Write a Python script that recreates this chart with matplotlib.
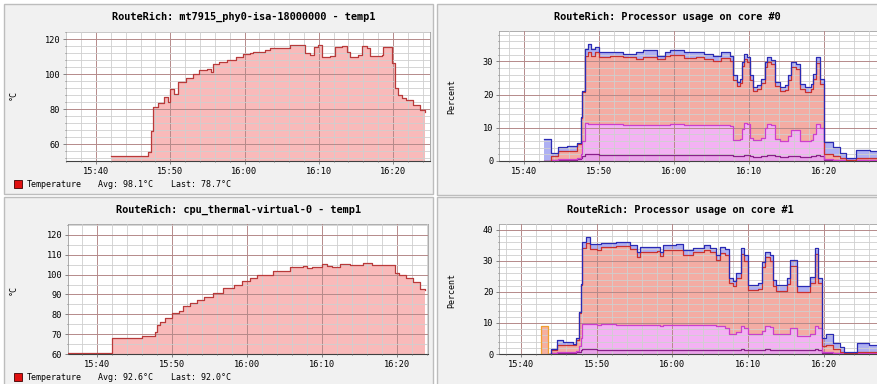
import matplotlib
matplotlib.use("Agg")
import matplotlib.pyplot as plt
import numpy as np
from matplotlib.patches import Rectangle
from matplotlib.ticker import MultipleLocator, FuncFormatter

W, H = 877, 384

# time axis: minutes after 15:00
# --- mt7915_phy0-isa-18000000 temp1 (degC)
wifi_t = [42.0, 47.0, 47.4, 47.7, 48.4, 49.1, 49.7, 50.0, 50.5, 51.1, 52.1, 53.0,
          53.9, 55.0, 55.5, 55.7, 56.6, 57.7, 58.9, 59.8, 60.7, 61.2, 62.8, 63.4,
          66.1, 67.7, 68.1, 68.8, 69.3, 69.9, 70.4, 71.5, 72.2, 73.1, 73.8, 74.2,
          75.3, 75.8, 76.5, 76.9, 78.5, 78.7, 79.6, 79.8, 80.3, 80.7, 81.2, 81.8,
          82.7, 83.6, 84.3]
wifi_temp = [53.3, 55.2, 67.2, 81.5, 83.4, 87.2, 84.3, 91.4, 88.5, 95.8, 98.1, 100.0,
             102.5, 103.2, 101.5, 105.7, 106.8, 108.2, 109.7, 111.4, 112.0, 112.9, 113.9, 114.8,
             116.7, 116.5, 112.0, 111.0, 115.8, 116.7, 110.1, 110.6, 115.8, 116.3, 112.9, 110.1,
             111.0, 116.3, 114.8, 110.6, 111.0, 115.4, 115.8, 106.2, 92.0, 88.2, 86.5, 85.3,
             82.5, 79.6, 78.3]

# --- cpu_thermal-virtual-0 temp1 (degC)
cpu_t = [36.1, 42.0, 44.4, 46.0, 47.5, 47.7, 48.0, 48.4, 49.1, 49.7, 50.0, 50.9,
         51.5, 52.4, 53.3, 54.2, 55.5, 56.8, 58.2, 59.3, 60.4, 61.3, 63.5, 65.7,
         67.5, 68.0, 68.7, 70.0, 70.6, 71.3, 72.4, 73.7, 75.5, 76.6, 78.2, 79.5,
         79.7, 80.3, 81.2, 82.1, 83.0, 83.7]
cpu_temp = [60.5, 67.9, 68.2, 68.9, 69.2, 70.9, 74.7, 76.3, 77.9, 78.3, 80.5, 81.7,
            84.2, 85.9, 87.0, 88.7, 90.9, 93.4, 95.0, 96.7, 98.4, 100.0, 102.0, 103.7,
            104.2, 103.3, 103.7, 105.3, 104.2, 103.9, 105.3, 104.7, 105.7, 104.7, 105.0, 105.0,
            100.9, 100.0, 98.4, 96.4, 93.0, 92.0]

# --- core #0 usage, stacked line levels (percent)
core0_t = [42.7, 43.6, 44.6, 45.7, 47.1, 47.6, 47.8, 48.1, 48.6, 49.0, 49.5, 50.0,
           51.5, 53.2, 55.0, 55.9, 57.7, 58.8, 59.5, 61.3, 63.0, 64.0, 65.2, 66.3,
           67.5, 67.9, 68.4, 68.8, 69.1, 69.3, 69.8, 70.1, 70.6, 71.1, 71.6, 72.1,
           72.4, 72.9, 73.5, 74.1, 74.8, 75.2, 75.6, 76.3, 76.8, 77.5, 78.3, 78.6,
           79.0, 79.5, 80.0, 81.2, 82.1, 83.0, 84.3, 86.1, 87.2]
core0_sys = [0.0, 0.2, 0.3, 0.3, 0.5, 0.8, 1.5, 2.1, 2.1, 2.0, 2.0, 1.9,
             1.9, 1.9, 1.9, 1.9, 1.8, 1.8, 1.9, 1.9, 1.8, 1.8, 1.8, 1.9,
             1.7, 1.4, 1.4, 1.4, 1.6, 1.8, 1.7, 1.4, 1.3, 1.3, 1.4, 1.6,
             1.8, 1.8, 1.4, 1.3, 1.3, 1.4, 1.6, 1.6, 1.3, 1.3, 1.4, 1.5,
             1.8, 1.6, 0.3, 0.2, 0.2, 0.1, 0.2, 0.2, 0.1]
core0_user = [0.0, 0.3, 0.5, 0.5, 1.0, 2.0, 6.0, 11.3, 11.2, 11.1, 11.0, 11.0,
              11.0, 10.8, 10.8, 10.7, 10.8, 10.8, 11.0, 10.9, 10.8, 10.8, 10.7, 10.7,
              10.5, 6.4, 6.4, 6.5, 9.5, 11.3, 11.0, 7.0, 6.4, 6.4, 7.0, 10.0,
              11.0, 10.8, 6.5, 6.1, 6.1, 7.5, 9.3, 9.3, 6.1, 6.1, 6.3, 8.0,
              11.0, 10.0, 0.5, 0.3, 0.3, 0.2, 0.3, 0.3, 0.2]
core0_irq = [0.0, 1.4, 3.1, 3.1, 5.0, 12.8, 20.8, 31.7, 32.9, 31.7, 32.7, 31.2,
             31.5, 31.2, 30.7, 31.2, 30.7, 31.7, 31.8, 31.0, 31.3, 30.8, 30.2, 31.0,
             30.0, 24.5, 22.5, 23.5, 28.5, 30.8, 29.8, 24.3, 21.2, 21.6, 23.5, 28.3,
             29.8, 29.2, 22.5, 21.0, 21.5, 24.4, 28.2, 27.8, 21.8, 20.8, 21.8, 24.8,
             29.6, 23.3, 2.0, 1.5, 0.9, 0.4, 0.8, 0.8, 0.5]
core0_total = [6.6, 2.5, 4.1, 4.4, 5.4, 13.3, 21.2, 33.7, 35.2, 33.7, 34.2, 32.9,
               32.7, 32.2, 32.9, 33.5, 31.7, 32.9, 33.4, 32.7, 32.9, 32.2, 31.5, 32.7,
               31.7, 25.8, 23.8, 24.8, 29.7, 32.2, 31.2, 25.8, 22.3, 22.8, 24.8, 29.7,
               31.2, 30.5, 23.8, 22.3, 22.8, 25.8, 29.7, 29.2, 23.3, 22.3, 23.3, 26.3,
               31.2, 24.8, 5.8, 4.1, 2.4, 0.9, 3.4, 2.9, 1.5]

# --- core #1 usage, stacked line levels (percent)
core1_t = [43.6, 44.0, 44.7, 45.5, 46.9, 47.3, 47.7, 47.9, 48.1, 48.6, 49.1, 50.0,
           50.6, 52.6, 54.4, 55.3, 55.7, 57.9, 58.4, 58.8, 60.5, 61.4, 62.7, 64.1,
           65.0, 65.8, 66.3, 66.9, 67.5, 68.0, 68.4, 69.1, 69.5, 70.0, 71.3, 71.8,
           72.2, 72.9, 73.3, 73.7, 75.1, 75.5, 76.4, 78.1, 78.8, 79.2, 79.7, 80.3,
           81.2, 82.1, 82.7, 84.3, 86.0, 87.2]
core1_sys = [0.0, 0.2, 0.3, 0.3, 0.3, 0.5, 0.8, 1.2, 1.5, 1.5, 1.5, 1.4,
             1.4, 1.4, 1.4, 1.3, 1.4, 1.4, 1.3, 1.4, 1.4, 1.3, 1.3, 1.3,
             1.3, 1.3, 1.3, 1.3, 1.2, 1.2, 1.3, 1.5, 1.4, 1.2, 1.2, 1.3,
             1.5, 1.4, 1.2, 1.2, 1.2, 1.4, 1.2, 1.3, 1.5, 1.4, 0.3, 0.3,
             0.2, 0.2, 0.1, 0.2, 0.2, 0.1]
core1_user = [0.0, 0.3, 0.5, 0.5, 0.6, 1.0, 2.5, 5.0, 9.7, 9.7, 9.6, 9.5,
              9.6, 9.5, 9.4, 9.3, 9.3, 9.2, 9.1, 9.2, 9.3, 9.3, 9.3, 9.3,
              9.2, 9.0, 9.0, 8.4, 6.3, 6.3, 7.0, 9.0, 8.5, 6.3, 6.3, 7.5,
              9.0, 8.8, 6.3, 6.3, 6.3, 8.4, 5.8, 6.5, 9.0, 8.5, 0.5, 0.5,
              0.4, 0.3, 0.2, 0.3, 0.3, 0.2]
core1_irq = [0.0, 1.2, 2.8, 2.8, 2.8, 4.5, 13.2, 22.3, 34.3, 35.9, 34.0, 33.4,
             34.4, 34.8, 33.8, 31.4, 33.0, 33.2, 31.5, 33.5, 33.5, 32.0, 32.8, 33.5,
             32.8, 30.3, 32.5, 32.0, 23.0, 22.0, 24.5, 32.3, 30.0, 20.5, 21.0, 28.0,
             31.2, 30.0, 22.0, 20.3, 22.5, 28.5, 20.0, 23.0, 32.3, 23.0, 2.5, 3.0,
             1.5, 0.8, 0.3, 0.8, 0.8, 0.4]
core1_total = [0.0, 1.7, 4.4, 4.0, 3.2, 5.3, 13.6, 22.7, 36.2, 37.8, 35.5, 35.5,
               35.8, 36.0, 35.2, 33.0, 34.6, 34.6, 33.0, 35.1, 35.5, 33.5, 34.3, 35.1,
               34.3, 31.9, 34.4, 34.0, 24.5, 23.5, 26.1, 34.1, 31.9, 22.3, 22.8, 29.8,
               33.0, 31.9, 24.0, 22.3, 24.5, 30.3, 21.8, 24.9, 34.2, 24.5, 5.2, 6.3,
               3.6, 2.3, 0.7, 3.4, 2.9, 1.5]
# short iowait burst on core #1
core1_wait_t = [42.7, 43.6]
core1_wait = [9.0, 9.0]

tick_minutes = [40, 50, 60, 70, 80]

MONO = "DejaVu Sans Mono"
MAJOR = "#b58a8a"
MINOR = "#cfcfcf"


def px_axes(fig, x0, y0, x1, y1):
    return fig.add_axes([x0 / W, 1 - y1 / H, (x1 - x0) / W, (y1 - y0) / H], zorder=2)


def hhmm(x, pos=None):
    h = 15 + int(x) // 60
    m = int(x) % 60
    return f"{h}:{m:02d}"


def style_axes(ax, xlim, ylim, ymajor, yminor):
    ax.set_facecolor("white")
    ax.set_xlim(*xlim)
    ax.set_ylim(*ylim)
    ax.set_xticks(tick_minutes)
    ax.xaxis.set_major_formatter(FuncFormatter(hhmm))
    ax.xaxis.set_minor_locator(MultipleLocator(2))
    ax.yaxis.set_major_locator(MultipleLocator(ymajor))
    ax.yaxis.set_minor_locator(MultipleLocator(yminor))
    ax.set_axisbelow(False)
    ax.grid(True, which="minor", color=MINOR, lw=0.6, zorder=2)
    ax.grid(True, which="major", color=MAJOR, lw=0.7, zorder=2)
    ax.tick_params(which="both", length=2, width=0.6, color="#707070",
                   labelsize=6.2, pad=2)
    ax.tick_params(which="minor", length=1)
    for lab in ax.get_xticklabels() + ax.get_yticklabels():
        lab.set_family(MONO)
    for side in ["left", "right", "top"]:
        ax.spines[side].set_color("#a0a0a0")
        ax.spines[side].set_linewidth(0.6)
    ax.spines["bottom"].set_color("#404040")
    ax.spines["bottom"].set_linewidth(0.8)


def panel(fig, x0, y0, x1, y1):
    fig.patches.append(Rectangle((x0 / W, 1 - y1 / H), (x1 - x0) / W, (y1 - y0) / H,
                                 transform=fig.transFigure, facecolor="#f1f1f1",
                                 edgecolor="#bdbdbd", lw=1.0, zorder=-10))


def temp_panel(fig, box, title, t, v, xlim, ylim, ymajor, yminor, title_xy, ylab_xy,
               legend_y, avg, last):
    ax = px_axes(fig, *box)
    style_axes(ax, xlim, ylim, ymajor, yminor)
    ax.fill_between(t, v, ylim[0], step="post", color="#f9baba", lw=0, zorder=1)
    ax.step(t, v, where="post", color="#b83a3a", lw=0.9, zorder=3)
    fig.text(title_xy[0] / W, 1 - title_xy[1] / H, title, ha="center", va="center",
             family=MONO, weight="bold", fontsize=7.4)
    fig.text(ylab_xy[0] / W, 1 - ylab_xy[1] / H, "°C", rotation=90, ha="center",
             va="center", family=MONO, fontsize=6)
    fig.patches.append(Rectangle((14 / W, 1 - (legend_y + 4) / H), 8 / W, 8 / H,
                                 transform=fig.transFigure, facecolor="#e01010",
                                 edgecolor="#400000", lw=0.6, zorder=3))
    fig.text(27 / W, 1 - legend_y / H, "Temperature", va="center", family=MONO, fontsize=6)
    fig.text(98 / W, 1 - legend_y / H, f"Avg: {avg}°C", va="center", family=MONO, fontsize=6)
    fig.text(171 / W, 1 - legend_y / H, f"Last: {last}°C", va="center", family=MONO, fontsize=6)
    return ax


def cpu_panel(fig, box, title, t, sys_top, user_top, irq_top, total, xlim, ylim,
              title_xy, ylab_xy):
    ax = px_axes(fig, *box)
    style_axes(ax, xlim, ylim, 10, 2)
    zero = np.zeros(len(t))
    layers = [(zero, sys_top, "#e9a3e9"), (sys_top, user_top, "#f3b2f3"),
              (user_top, irq_top, "#f4aca3"), (irq_top, total, "#aeb0f2")]
    for lo, hi, c in layers:
        ax.fill_between(t, lo, hi, step="post", color=c, lw=0, zorder=1)
    for y, c in [(sys_top, "#8a1f8a"), (user_top, "#cc3fcc"), (irq_top, "#c83030"),
                 (total, "#2a2ab4")]:
        ax.step(t, y, where="post", color=c, lw=0.9, zorder=3)
    fig.text(title_xy[0] / W, 1 - title_xy[1] / H, title, ha="center", va="center",
             family=MONO, weight="bold", fontsize=7.4)
    fig.text(ylab_xy[0] / W, 1 - ylab_xy[1] / H, "Percent", rotation=90, ha="center",
             va="center", family=MONO, fontsize=6)
    return ax


fig = plt.figure(figsize=(W / 100, H / 100), dpi=100, facecolor="white")

panel(fig, 4, 4, 433, 194)
panel(fig, 437, 4, 880, 195)
panel(fig, 4, 197, 433, 386)
panel(fig, 437, 197, 880, 386)

temp_panel(fig, (66, 32, 430, 161), "RouteRich: mt7915_phy0-isa-18000000 - temp1",
           wifi_t, wifi_temp, (35.96, 84.98), (50.3, 124.2), 20, 4,
           (244, 17), (13, 95), 184, "98.1", "78.7")
temp_panel(fig, (68, 224, 428, 354), "RouteRich: cpu_thermal-virtual-0 - temp1",
           cpu_t, cpu_temp, (36.13, 84.13), (60, 125.5), 10, 5,
           (239, 210), (13, 290), 377, "92.6", "92.0")

cpu_panel(fig, (499, 31, 877, 161), "RouteRich: Processor usage on core #0",
          core0_t, core0_sys, core0_user, core0_irq, core0_total,
          (36.67, 87.07), (0, 39.1), (667, 17), (452, 97))
ax1 = cpu_panel(fig, (499, 224, 877, 354), "RouteRich: Processor usage on core #1",
                core1_t, core1_sys, core1_user, core1_irq, core1_total,
                (37.1, 87.0), (0, 41.9), (680, 210), (452, 290))
ax1.fill_between(core1_wait_t, core1_wait, 0, step="post", color="#f5b0a0", lw=0, zorder=1)
w0, w1 = core1_wait_t[0], core1_wait_t[-1]
ax1.plot([w0, w0, w1, w1], [0, core1_wait[0], core1_wait[-1], 0], color="#f0a030",
         lw=0.9, zorder=3)

fig.savefig("out.png", dpi=100, facecolor="white")
